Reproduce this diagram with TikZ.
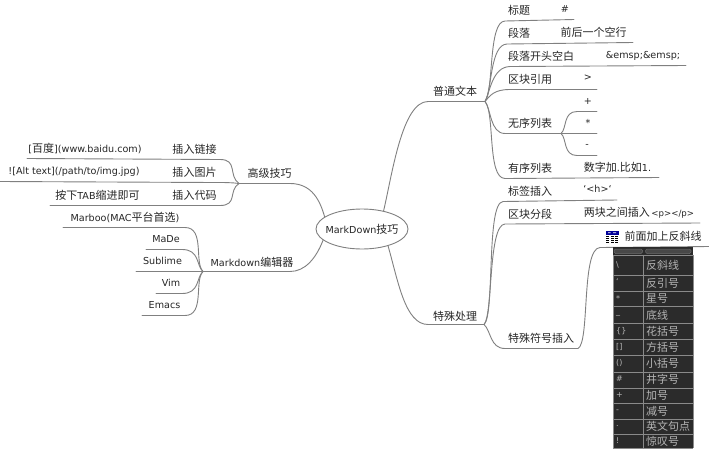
\documentclass[tikz,border=0pt]{standalone}
\usepackage{fontspec}
\usetikzlibrary{shapes.geometric}
\setmainfont{DejaVu Sans}
\newfontfamily\cjk[Scale=1.146]{Noto Sans CJK SC}
\newcommand{\cn}[1]{{\cjk #1}}
\definecolor{linec}{HTML}{808080}
\definecolor{tabbg}{HTML}{2B2B2B}
\definecolor{tabln}{HTML}{8A8A8A}
\definecolor{tabtx}{HTML}{B4B4B4}
\definecolor{pillc}{HTML}{484848}
\definecolor{pillr}{HTML}{6A6A6A}
\tikzset{
  lab/.style={inner sep=0pt,text=black!85,font=\fontsize{9.6}{10}\selectfont},
  wire/.style={draw=linec,line width=0.9pt,line cap=round},
  cella/.style={inner sep=0pt,anchor=west,text=tabtx,font=\fontsize{8}{10}\selectfont},
  cellb/.style={inner sep=0pt,anchor=west,text=tabtx,font=\fontsize{9.6}{11}\selectfont\cjk},
  pill/.style={draw=pillr,fill=pillc,line width=0.5pt,rounded corners=1.5pt},
  tabrule/.style={draw=tabln,line width=0.8pt}
}
\begin{document}
\begin{tikzpicture}[x=1pt,y=-1pt]
\useasboundingbox (0,0) rectangle (709,450);
\fill[white] (0,0) rectangle (709,450);
% root
\node[ellipse,draw=linec,line width=0.9pt,lab,inner xsep=-4.5pt,inner ysep=0pt,minimum width=92pt,minimum height=40pt] (root) at (362,229) {MarkDown\cn{技巧}};
\begin{scope}[yshift=-0.5pt]
% junction coordinates
\coordinate (jA) at (485,101);
\coordinate (jB) at (484,324);
\coordinate (jC) at (239,183);
\coordinate (jD) at (203,271);
\coordinate (jU) at (561,133);
% main branches
\draw[wire] (root.40) .. controls (392,175) and (402,101) .. (428,101) -- (jA);
\draw[wire] (root.-33) .. controls (398,280) and (405,324) .. (428,324) -- (jB);
\draw[wire] (root.162) .. controls (320,200) and (312,183) .. (290,183) -- (jC);
\draw[wire] (root.196) .. controls (316,258) and (305,271) .. (290,271) -- (jD);
% right top leaves
\coordinate (a1) at (574,19);
\coordinate (a2) at (633,42);
\coordinate (a3) at (686,65);
\coordinate (a4) at (597,89);
\coordinate (a6) at (659,177);
\draw[wire] (jA) .. controls (494,90) and (488,21) .. (505,20.5) -- (a1);
\draw[wire] (jA) .. controls (492,90) and (490,44) .. (507,43.5) -- (a2);
\draw[wire] (jA) .. controls (490,92) and (492,66.5) .. (510,66) -- (a3);
\draw[wire] (jA) .. controls (490,95) and (494,89) .. (510,89) -- (a4);
\draw[wire] (jA) .. controls (491,108) and (490,133) .. (505,133) -- (jU);
\draw[wire] (jA) .. controls (495,112) and (487,178) .. (505,178) -- (a6);
\coordinate (u1) at (597,111);
\coordinate (u2) at (597,133);
\coordinate (u3) at (597,155);
\draw[wire] (jU) .. controls (567,128) and (563,111) .. (577,111) -- (u1);
\draw[wire] (jU) -- (u2);
\draw[wire] (jU) .. controls (567,138) and (563,155) .. (577,155) -- (u3);
% right bottom leaves
\coordinate (b1) at (617,199.5);
\coordinate (b2) at (700,222.5);
\coordinate (b3) at (572,348);
\coordinate (b4) at (709,246);
\draw[wire] (jB) .. controls (495,315) and (486,202) .. (503,201) -- (b1);
\draw[wire] (jB) .. controls (493,315) and (488,224) .. (505,223.5) -- (b2);
\draw[wire] (jB) .. controls (491,330) and (490,348) .. (505,348) -- (b3);
\draw[wire] (b3) -- (578,348) .. controls (590,342) and (581,248) .. (600,247) -- (b4);
% left leaves
\coordinate (c1) at (27,158);
\coordinate (c2) at (0,181);
\coordinate (c3) at (50,205);
\draw[wire] (jC) .. controls (228,175) and (238,159) .. (220,159) -- (c1);
\draw[wire] (jC) .. controls (232,182) and (225,182) .. (215,182) -- (c2);
\draw[wire] (jC) .. controls (228,190) and (238,205) .. (220,205) -- (c3);
\coordinate (d1) at (63,227);
\coordinate (d2) at (146,249);
\coordinate (d3) at (136,271);
\coordinate (d4) at (156,293);
\coordinate (d5) at (142,315);
\draw[wire] (jD) .. controls (194,262) and (205,227) .. (185,227) -- (d1);
\draw[wire] (jD) .. controls (196,265) and (200,249) .. (182,249) -- (d2);
\draw[wire] (jD) -- (d3);
\draw[wire] (jD) .. controls (196,277) and (200,293) .. (182,293) -- (d4);
\draw[wire] (jD) .. controls (194,280) and (205,315) .. (185,315) -- (d5);
\end{scope}
% labels
\node[lab] (n1) at (455,91) {\cn{普通文本}};
\node[lab] (n2) at (455,316) {\cn{特殊处理}};
\node[lab] (n3) at (269.5,173) {\cn{高级技巧}};
\node[lab] (n4) at (252,262) {Markdown\cn{编辑器}};
\node[lab] (t1) at (519,10) {\cn{标题}};
\node[lab] (v1) at (565,9) {\#};
\node[lab] (t2) at (519,33) {\cn{段落}};
\node[lab] (v2) at (593.5,32) {\cn{前后一个空行}};
\node[lab] (t3) at (541,56) {\cn{段落开头空白}};
\node[lab] (v3) at (643,56) {\&emsp;\&emsp;};
\node[lab] (t4) at (530,79) {\cn{区块引用}};
\node[lab] (v4) at (588,78) {>};
\node[lab] (t5) at (530,123) {\cn{无序列表}};
\node[lab] (v5) at (588,101) {+};
\node[lab] (v6) at (588,123) {*};
\node[lab] (v7) at (587,146) {-};
\node[lab] (t6) at (530,168) {\cn{有序列表}};
\node[lab] (v8) at (617.5,167) {\cn{数字加}.\cn{比如}1.};
\node[lab] (t7) at (530,191) {\cn{标签插入}};
\node[lab] (v9) at (597.5,189) {\char96<h>\char96};
\node[lab] (t8) at (530,214) {\cn{区块分段}};
\node[lab] (v10) at (639,213) {\cn{两块之间插入}\,{\fontsize{8.6}{9}\selectfont <p></p>}};
\node[lab] (t9) at (541,338) {\cn{特殊符号插入}};
\node[lab] (v11) at (663,236) {\cn{前面加上反斜线}};
\node[lab] (l1) at (194.5,149) {\cn{插入链接}};
\node[lab] (l2) at (194.5,172) {\cn{插入图片}};
\node[lab] (l3) at (194.5,195) {\cn{插入代码}};
\node[lab] (r1) at (85,148.5) {[\cn{百度}](www.baidu.com)};
\node[lab] (r2) at (74,171.5) {![Alt text](/path/to/img.jpg)};
\node[lab] (r3) at (97.5,195) {\cn{按下}TAB\cn{缩进即可}};
\node[lab] (e1) at (125,217) {Marboo(MAC\cn{平台首选})};
\node[lab] (e2) at (166,239.5) {MaDe};
\node[lab] (e3) at (162.5,261) {Sublime};
\node[lab] (e4) at (171,283) {Vim};
\node[lab] (e5) at (164.5,305.5) {Emacs};
% icon
\fill[blue!60!black] (605.5,231) rectangle (618.5,234.5);
\fill[white] (608,232.3) rectangle (610.5,233.2) (613,232.3) rectangle (616,233.2);
\foreach \yy in {235.5,237.5,239.5,241.5}
  \foreach \xx in {606,610.5,615}
    \fill[black] (\xx,\yy) rectangle ++(3.2,1.3);
% table
\fill[tabbg] (613,247) rectangle (693,448);
\path[pill] (614,249) rectangle (642.5,253.5);
\path[pill] (645.5,249) rectangle (691,253.5);
\foreach \yy in {255,275,291,306,323,339,355,372,388,403,419,434,448}
  \draw[tabrule] (613,\yy) -- (693,\yy);
\draw[tabrule] (613,255) -- (613,448);
\draw[tabrule] (643,255) -- (643,448);
\draw[tabrule] (693,255) -- (693,448);
\node[cella] (ka) at (616,265) {\textbackslash};   \node[cellb] (va) at (646,265) {反斜线};
\node[cella] (kb) at (616,282) {\char96};          \node[cellb] (vb) at (646,283) {反引号};
\node[cella] (kc) at (616,299) {*};                \node[cellb] (vc) at (646,299) {星号};
\node[cella] (kd) at (616,315) {\_};               \node[cellb] (vd) at (646,315) {底线};
\node[cella] (ke) at (616,331) {\{\}};             \node[cellb] (ve) at (646,331) {花括号};
\node[cella] (kf) at (616,347) {[]};               \node[cellb] (vf) at (646,347) {方括号};
\node[cella] (kg) at (616,363) {()};               \node[cellb] (vg) at (646,363) {小括号};
\node[cella] (kh) at (616,379) {\#};               \node[cellb] (vh) at (646,379) {井字号};
\node[cella] (ki) at (616,395) {+};                \node[cellb] (vi) at (646,395) {加号};
\node[cella] (kj) at (616,411) {-};                \node[cellb] (vj) at (646,411) {减号};
\node[cella] (kk) at (616,426) {.};                \node[cellb] (vk) at (646,426) {英文句点};
\node[cella] (kl) at (616,441) {!};                \node[cellb] (vl) at (646,441) {惊叹号};
\end{tikzpicture}
\end{document}
